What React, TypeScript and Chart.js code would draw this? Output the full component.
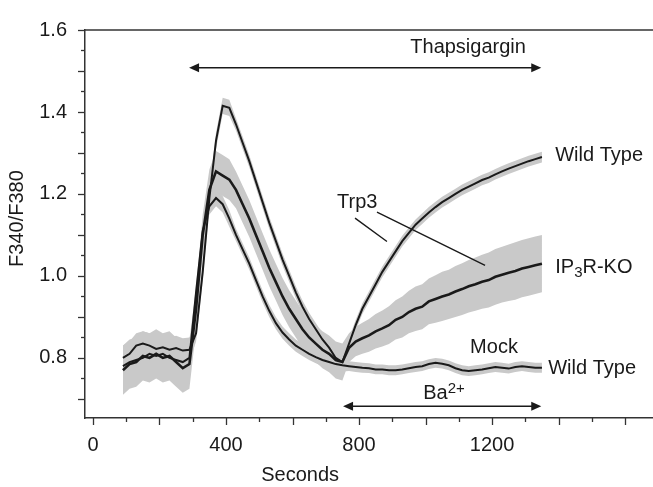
import React, { useEffect, useRef } from "react";
import { Chart, registerables } from "chart.js";

Chart.register(...registerables);

// Time points (seconds)
const times = [
  90, 110, 130, 150, 170, 190, 210, 230, 250, 270, 290,
  310, 330, 350, 370, 390, 410,
  430, 450, 470, 490, 510, 530, 550, 570, 590, 610, 630, 650, 670, 690, 710, 730, 750,
  770, 790, 810, 830, 850, 870, 890, 910, 930, 950, 970, 990, 1010, 1030, 1050, 1070,
  1090, 1110, 1130, 1150, 1170, 1190, 1210, 1230, 1250, 1270, 1290, 1310, 1330, 1350,
];

// Trp3 Wild Type (F340/F380)
const wildTypeTrp3 = [
  0.80, 0.81, 0.83, 0.835, 0.83, 0.822, 0.826, 0.82, 0.824, 0.818, 0.82,
  0.86, 1.01, 1.19, 1.33, 1.415, 1.41,
  1.37, 1.325, 1.28, 1.23, 1.18, 1.13, 1.085, 1.04, 1.0, 0.96, 0.925, 0.895, 0.87, 0.845, 0.825, 0.80, 0.79,
  0.835, 0.88, 0.92, 0.95, 0.98, 1.01, 1.035, 1.06, 1.085, 1.105, 1.125, 1.14, 1.155, 1.168, 1.18, 1.19,
  1.2, 1.21, 1.218, 1.226, 1.234, 1.24, 1.248, 1.255, 1.262, 1.268, 1.274, 1.28, 1.285, 1.29,
];
const wildTypeTrp3Sem = [
  0.03, 0.03, 0.03, 0.03, 0.03, 0.03, 0.03, 0.03, 0.03, 0.03, 0.03,
  0.02, 0.02, 0.02, 0.02, 0.02, 0.02,
  0.015, 0.015, 0.015, 0.015, 0.015, 0.015, 0.015, 0.015, 0.015, 0.015, 0.015, 0.015, 0.015, 0.015, 0.015, 0.015, 0.015,
  0.013, 0.013, 0.013, 0.013, 0.013, 0.013, 0.013, 0.013, 0.013, 0.013, 0.013, 0.013, 0.013, 0.013, 0.013, 0.013,
  0.013, 0.013, 0.013, 0.013, 0.013, 0.013, 0.013, 0.013, 0.013, 0.013, 0.013, 0.013, 0.013, 0.013,
];

// Trp3 IP3R-KO
const ip3rKoTrp3 = [
  0.77, 0.785, 0.79, 0.805, 0.80, 0.81, 0.80, 0.805, 0.79, 0.775, 0.785,
  0.92, 1.10, 1.21, 1.255, 1.245, 1.235,
  1.21, 1.175, 1.14, 1.10, 1.06, 1.02, 0.985, 0.95, 0.92, 0.895, 0.87, 0.85, 0.835, 0.82, 0.81, 0.795, 0.79,
  0.825, 0.84, 0.848, 0.855, 0.865, 0.872, 0.88, 0.893, 0.90, 0.912, 0.92, 0.925, 0.938, 0.944, 0.95, 0.955,
  0.962, 0.968, 0.975, 0.98, 0.986, 0.99, 0.998, 1.003, 1.008, 1.012, 1.018, 1.022, 1.026, 1.03,
];
const ip3rKoTrp3Sem = [
  0.06, 0.06, 0.06, 0.06, 0.06, 0.06, 0.06, 0.06, 0.06, 0.06, 0.06,
  0.05, 0.05, 0.05, 0.05, 0.05, 0.05,
  0.045, 0.045, 0.045, 0.045, 0.045, 0.045, 0.045, 0.045, 0.045, 0.045, 0.045, 0.045, 0.045, 0.045, 0.045, 0.045, 0.045,
  0.035, 0.036, 0.038, 0.04, 0.042, 0.044, 0.046, 0.048, 0.05, 0.052, 0.054, 0.055, 0.056, 0.058, 0.06, 0.06,
  0.062, 0.063, 0.064, 0.065, 0.066, 0.067, 0.068, 0.068, 0.069, 0.07, 0.07, 0.07, 0.07, 0.07,
];

// Mock Wild Type
const mockWildType = [
  0.78, 0.79, 0.795, 0.80, 0.81, 0.805, 0.81, 0.80, 0.795, 0.79, 0.80,
  0.96, 1.11, 1.17, 1.19, 1.175, 1.14,
  1.10, 1.065, 1.03, 0.99, 0.95, 0.915, 0.885, 0.862, 0.845, 0.83, 0.82, 0.81, 0.802, 0.795, 0.79, 0.785, 0.782,
  0.78, 0.778, 0.776, 0.775, 0.772, 0.772, 0.77, 0.77, 0.772, 0.775, 0.778, 0.78, 0.785, 0.788, 0.786, 0.782,
  0.775, 0.77, 0.768, 0.77, 0.772, 0.775, 0.778, 0.776, 0.774, 0.778, 0.78, 0.778, 0.776, 0.776,
];
const mockWildTypeSem = [
  0.02, 0.02, 0.02, 0.02, 0.02, 0.02, 0.02, 0.02, 0.02, 0.02, 0.02,
  0.02, 0.02, 0.02, 0.02, 0.02, 0.02,
  0.015, 0.015, 0.015, 0.015, 0.015, 0.015, 0.015, 0.015, 0.015, 0.015, 0.015, 0.015, 0.015, 0.015, 0.015, 0.015, 0.015,
  0.012, 0.012, 0.012, 0.012, 0.012, 0.012, 0.012, 0.012, 0.012, 0.012, 0.012, 0.012, 0.012, 0.012, 0.012, 0.012,
  0.012, 0.012, 0.012, 0.012, 0.012, 0.012, 0.012, 0.012, 0.012, 0.012, 0.012, 0.012, 0.012, 0.012,
];

// Axis ticks
const xLabelTicks = [0, 400, 800, 1200];
const xMarkTicks = [0, 100, 200, 300, 400, 500, 600, 700, 800, 900, 1000, 1100, 1200, 1300, 1400, 1500, 1600];
const yLabelTicks = [0.8, 1.0, 1.2, 1.4, 1.6];
const yMarkTicks = [0.7, 0.75, 0.8, 0.85, 0.9, 0.95, 1.0, 1.05, 1.1, 1.15, 1.2, 1.25, 1.3, 1.35, 1.4, 1.45, 1.5, 1.55, 1.6];

const X_MIN = -24;
const X_MAX = 1684;
const Y_MIN = 0.6535;
const Y_MAX = 1.6;

const FONT = "'Liberation Sans', Arial, Helvetica, sans-serif";
const INK = "#1a1a1a";
const AXIS = "#333333";
const BAND = "#c9c9c9";

const pts = (vals: number[]) => times.map((t, i) => ({ x: t, y: vals[i] }));
const lo = (vals: number[], sem: number[]) => times.map((t, i) => ({ x: t, y: vals[i] - sem[i] }));
const hi = (vals: number[], sem: number[]) => times.map((t, i) => ({ x: t, y: vals[i] + sem[i] }));

const annotationPlugin = {
  id: "figureAnnotations",
  afterDatasetsDraw(chart: any) {
    const { ctx, chartArea, scales } = chart;
    const xs = scales.x;
    const ys = scales.y;
    const px = (v: number) => xs.getPixelForValue(v);
    const py = (v: number) => ys.getPixelForValue(v);
    ctx.save();

    // top frame line
    ctx.strokeStyle = AXIS;
    ctx.lineWidth = 1.5;
    ctx.beginPath();
    ctx.moveTo(chartArea.left, chartArea.top);
    ctx.lineTo(chartArea.right, chartArea.top);
    ctx.stroke();

    // tick marks
    ctx.lineWidth = 1.3;
    yMarkTicks.forEach((v) => {
      const major = Math.abs(v * 10 - Math.round(v * 10)) < 1e-6;
      const len = major ? 7 : 4;
      const y = Math.round(py(v)) + 0.5;
      ctx.beginPath();
      ctx.moveTo(chartArea.left - len, y);
      ctx.lineTo(chartArea.left, y);
      ctx.stroke();
    });
    xMarkTicks.forEach((v) => {
      const major = v % 200 === 0;
      const len = major ? 7 : 4;
      const x = Math.round(px(v)) + 0.5;
      ctx.beginPath();
      ctx.moveTo(x, chartArea.bottom);
      ctx.lineTo(x, chartArea.bottom + len);
      ctx.stroke();
    });

    // double arrows
    const arrow = (x1: number, x2: number, yv: number) => {
      const a = px(x1);
      const b = px(x2);
      const y = py(yv);
      ctx.strokeStyle = INK;
      ctx.fillStyle = INK;
      ctx.lineWidth = 1.6;
      ctx.beginPath();
      ctx.moveTo(a + 4, y);
      ctx.lineTo(b - 4, y);
      ctx.stroke();
      ctx.beginPath();
      ctx.moveTo(a, y);
      ctx.lineTo(a + 10, y - 4.5);
      ctx.lineTo(a + 10, y + 4.5);
      ctx.closePath();
      ctx.fill();
      ctx.beginPath();
      ctx.moveTo(b, y);
      ctx.lineTo(b - 10, y - 4.5);
      ctx.lineTo(b - 10, y + 4.5);
      ctx.closePath();
      ctx.fill();
    };
    arrow(289, 1348, 1.508);
    arrow(752, 1348, 0.682);

    // leader lines for Trp3
    ctx.strokeStyle = INK;
    ctx.lineWidth = 1.4;
    ctx.beginPath();
    ctx.moveTo(px(788), py(1.141));
    ctx.lineTo(px(884), py(1.084));
    ctx.moveTo(px(854), py(1.156));
    ctx.lineTo(px(1179), py(1.026));
    ctx.stroke();

    // texts
    ctx.fillStyle = INK;
    ctx.textBaseline = "middle";
    ctx.font = `20px ${FONT}`;
    ctx.textAlign = "center";
    ctx.fillText("Thapsigargin", px(1128), py(1.557));
    ctx.textAlign = "left";
    ctx.fillText("Wild Type", px(1390), py(1.293));
    ctx.fillText("Wild Type", px(1369), py(0.774));
    ctx.fillText("Mock", px(1134), py(0.826));
    ctx.fillText("Trp3", px(734), py(1.18));

    // IP3R-KO with subscript
    let cx = px(1390);
    const cy = py(1.021);
    ctx.fillText("IP", cx, cy);
    cx += ctx.measureText("IP").width;
    ctx.font = `15px ${FONT}`;
    ctx.fillText("3", cx, cy + 6);
    cx += ctx.measureText("3").width;
    ctx.font = `20px ${FONT}`;
    ctx.fillText("R-KO", cx, cy);

    // Ba2+
    let bx = px(993);
    const by = py(0.713);
    ctx.fillText("Ba", bx, by);
    bx += ctx.measureText("Ba").width;
    ctx.font = `15px ${FONT}`;
    ctx.fillText("2+", bx, by - 5);

    // axis titles
    ctx.font = `20px ${FONT}`;
    ctx.textAlign = "center";
    ctx.fillText("Seconds", px(623), chartArea.bottom + 57);
    ctx.save();
    ctx.translate(17, py(1.14));
    ctx.rotate(-Math.PI / 2);
    ctx.fillText("F340/F380", 0, 0);
    ctx.restore();

    ctx.restore();
  },
};

export default function App() {
  const canvasRef = useRef<HTMLCanvasElement | null>(null);

  useEffect(() => {
    if (!canvasRef.current) return;
    const lineDs = (data: any, width: number) => ({
      data,
      borderColor: INK,
      borderWidth: width,
      pointRadius: 0,
      fill: false,
      tension: 0,
      order: 1,
    });
    const bandLo = (data: any) => ({
      data,
      borderWidth: 0,
      borderColor: "rgba(0,0,0,0)",
      pointRadius: 0,
      fill: false,
      order: 2,
    });
    const bandHi = (data: any, target: number) => ({
      data,
      borderWidth: 0,
      borderColor: "rgba(0,0,0,0)",
      backgroundColor: BAND,
      pointRadius: 0,
      fill: { target },
      order: 2,
    });

    const chart = new Chart(canvasRef.current, {
      type: "line",
      data: {
        datasets: [
          lineDs(pts(wildTypeTrp3), 2),
          lineDs(pts(ip3rKoTrp3), 2.6),
          lineDs(pts(mockWildType), 2),
          bandLo(lo(ip3rKoTrp3, ip3rKoTrp3Sem)),
          bandHi(hi(ip3rKoTrp3, ip3rKoTrp3Sem), 3),
          bandLo(lo(wildTypeTrp3, wildTypeTrp3Sem)),
          bandHi(hi(wildTypeTrp3, wildTypeTrp3Sem), 5),
          bandLo(lo(mockWildType, mockWildTypeSem)),
          bandHi(hi(mockWildType, mockWildTypeSem), 7),
        ] as any,
      },
      options: {
        animation: false,
        responsive: false,
        events: [],
        layout: { padding: { top: 24, right: 0, left: 0, bottom: 0 } },
        plugins: {
          legend: { display: false },
          tooltip: { enabled: false },
          title: { display: false },
        },
        scales: {
          x: {
            type: "linear",
            min: X_MIN,
            max: X_MAX,
            grid: { display: false, drawTicks: false },
            border: { display: true, color: AXIS, width: 1.5 },
            afterFit: (s: any) => {
              s.height = 69;
            },
            afterBuildTicks: (s: any) => {
              s.ticks = xLabelTicks.map((v) => ({ value: v }));
            },
            ticks: {
              color: INK,
              padding: 15,
              maxRotation: 0,
              autoSkip: false,
              font: { family: FONT, size: 20 },
              callback: (v: any) => String(v),
            },
          },
          y: {
            type: "linear",
            min: Y_MIN,
            max: Y_MAX,
            grid: { display: false, drawTicks: false },
            border: { display: true, color: AXIS, width: 1.5 },
            afterFit: (s: any) => {
              s.width = 85;
            },
            afterBuildTicks: (s: any) => {
              s.ticks = yLabelTicks.map((v) => ({ value: v }));
            },
            ticks: {
              color: INK,
              padding: 18,
              autoSkip: false,
              font: { family: FONT, size: 20 },
              callback: (v: any) => Number(v).toFixed(1),
            },
          },
        },
      },
      plugins: [annotationPlugin],
    });
    return () => chart.destroy();
  }, []);

  return (
    <div style={{ position: "fixed", left: 0, top: 0, width: 653, height: 487, background: "#fff" }}>
      <canvas ref={canvasRef} width={653} height={487} style={{ display: "block" }} />
    </div>
  );
}
